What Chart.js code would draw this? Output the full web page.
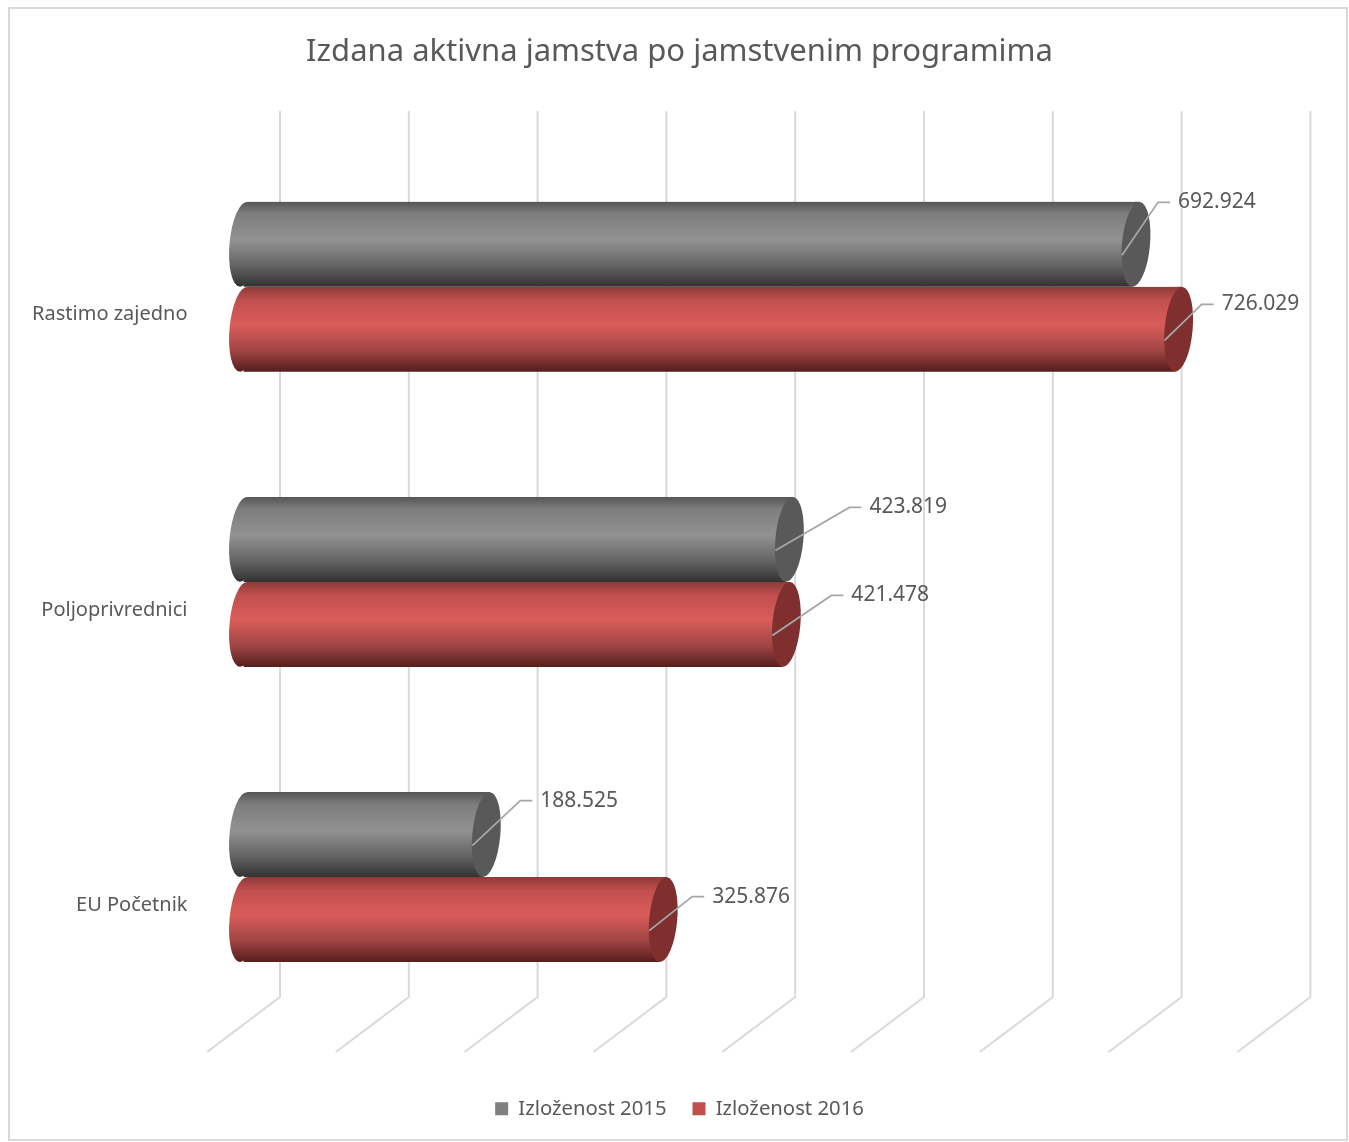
<!DOCTYPE html>
<html>
<head>
<meta charset="utf-8">
<title>Izdana aktivna jamstva</title>
<script src="https://cdn.jsdelivr.net/npm/chart.js@4/dist/chart.umd.js"></script>
<style>
    html, body { margin: 0; padding: 0; background: #fff; }
    #wrap { width: 1349px; height: 1142px; }
    canvas { filter: blur(0.5px); }
</style>
</head>
<body>
<div id="wrap"><canvas id="jamstva"></canvas></div>
<script>
const categories = ["Rastimo zajedno", "Poljoprivrednici", "EU Početnik"];
const seriesNames = ["Izloženost 2015", "Izloženost 2016"];
const values2015 = [692924, 423819, 188525];
const values2016 = [726029, 421478, 325876];

const textColour = "#595959";
const gridColour = "#d9d9d9";
const fontName = "'Noto Sans', sans-serif";

const legendColours = ["#7f7f7f", "#c0504d"];
const capColours = ["#595959", "#7f2f2e"];
const bodyStops = [
    [[0, "#565656"], [0.14, "#7d7d7d"], [0.45, "#929292"], [0.75, "#646464"], [1, "#323232"]],
    [[0, "#8c3b39"], [0.16, "#c2504e"], [0.45, "#d95c5a"], [0.75, "#a04543"], [1, "#551d1d"]],
];

// how far each value label sits from the end of its bar [dx, dy], per series
const labelShift = [
    [[42, -42], [80, -32], [54, -34]],
    [[43, -25], [65, -29], [49, -23]],
];

const DEPTH_X = 36.5;
const CAP_RX = 14;
const CAP_TILT = 0.09;
const CAP_LEAN = 3.8;
const BAR_H = 85;

function barGradient(ctx, top, bottom, datasetIndex) {
    let g = ctx.createLinearGradient(0, top, 0, bottom);
    bodyStops[datasetIndex].forEach(s => g.addColorStop(s[0], s[1]));
    return g;
}

function bodyFill(context) {
    let i = context.datasetIndex;
    let y = context.chart.scales.y;
    if (context.type !== 'data' || !y) {
        return legendColours[i];
    }
    let top = y.getPixelForValue(context.dataIndex) + (i === 0 ? -BAR_H : 0);
    if (!Number.isFinite(top)) {
        return legendColours[i];
    }
    return barGradient(context.chart.ctx, top, top + BAR_H, i);
}

const thousands = v => String(v).replace(/\B(?=(\d{3})+$)/g, ".");

/*
    3D look: back wall + floor grid, round bar ends, leader lines
 */
const cylinderPlugin = {
    id: 'cylinder',
    beforeDraw(chart) {
        let ctx = chart.ctx;
        ctx.save();
        ctx.fillStyle = "#fff";
        ctx.fillRect(0, 0, chart.width, chart.height);
        ctx.strokeStyle = gridColour;
        ctx.lineWidth = 2;
        ctx.strokeRect(9, 8, 1338, 1132);
        ctx.restore();
    },
    beforeDatasetsDraw(chart) {
        let ctx = chart.ctx;
        let x = chart.scales.x;
        ctx.save();
        ctx.strokeStyle = gridColour;
        ctx.lineWidth = 2;
        x.ticks.forEach(t => {
            let px = x.getPixelForValue(t.value);
            ctx.beginPath();
            ctx.moveTo(px + DEPTH_X, 111);
            ctx.lineTo(px + DEPTH_X, 997);
            ctx.lineTo(px - DEPTH_X, 1052);
            ctx.stroke();
        });
        ctx.restore();
    },
    // the tilted ends mean the square bar corners have to go
    beforeDatasetDraw(chart, args) {
        let ctx = chart.ctx;
        ctx.save();
        ctx.beginPath();
        chart.getDatasetMeta(args.index).data.forEach(bar => {
            let p = bar.getProps(['x', 'y', 'base', 'height'], true);
            let top = p.y - p.height / 2;
            let bottom = p.y + p.height / 2;
            ctx.moveTo(p.base + CAP_LEAN, top);
            ctx.lineTo(p.x + CAP_LEAN, top);
            ctx.lineTo(p.x - CAP_LEAN, bottom);
            ctx.lineTo(p.base - CAP_LEAN, bottom);
            ctx.closePath();
        });
        ctx.clip();
    },
    afterDatasetDraw(chart, args) {
        let ctx = chart.ctx;
        let i = args.index;
        ctx.restore();
        chart.getDatasetMeta(i).data.forEach(bar => {
            let p = bar.getProps(['x', 'y', 'base', 'height'], true);
            let top = p.y - p.height / 2;
            ctx.save();
            // left rounded end has the same shading as the body
            ctx.fillStyle = barGradient(ctx, top, top + p.height, i);
            ctx.beginPath();
            ctx.ellipse(p.base, p.y, CAP_RX, p.height / 2, CAP_TILT, 0, Math.PI * 2);
            ctx.fill();
            // little wedge where the top edge runs on past the bar
            ctx.beginPath();
            ctx.moveTo(p.x - 1, top);
            ctx.lineTo(p.x + CAP_LEAN, top);
            ctx.lineTo(p.x - 1, p.y);
            ctx.fill();
            // right end is the flat dark face
            ctx.fillStyle = capColours[i];
            ctx.beginPath();
            ctx.ellipse(p.x, p.y, CAP_RX, p.height / 2, CAP_TILT, 0, Math.PI * 2);
            ctx.fill();
            ctx.restore();
        });
    },
    afterDatasetsDraw(chart) {
        let ctx = chart.ctx;
        ctx.save();
        ctx.font = "21px " + fontName;
        ctx.fillStyle = textColour;
        ctx.textAlign = "left";
        ctx.textBaseline = "middle";
        chart.data.datasets.forEach((ds, i) => {
            chart.getDatasetMeta(i).data.forEach((bar, j) => {
                let p = bar.getProps(['x', 'y'], true);
                let tx = p.x + labelShift[i][j][0];
                let ty = p.y + labelShift[i][j][1];
                ctx.strokeStyle = "#a6a6a6";
                ctx.lineWidth = 1.8;
                ctx.beginPath();
                ctx.moveTo(p.x - CAP_RX, p.y + 11);
                ctx.lineTo(tx - 20, ty);
                ctx.lineTo(tx - 8, ty);
                ctx.stroke();
                ctx.fillText(thousands(ds.data[j]), tx, ty);
            });
        });
        ctx.restore();
    }
};

new Chart(
    document.getElementById('jamstva'),
    {
        type: 'bar',
        plugins: [cylinderPlugin],
        data: {
            labels: categories,
            datasets: [
                { label: seriesNames[0], data: values2015, backgroundColor: bodyFill, borderWidth: 0 },
                { label: seriesNames[1], data: values2016, backgroundColor: bodyFill, borderWidth: 0 },
            ]
        },
        options: {
            indexAxis: 'y',
            responsive: true,
            maintainAspectRatio: false,
            animation: false,
            barThickness: BAR_H,
            layout: { padding: { top: 6, right: 0, bottom: 13, left: 10 } },
            scales: {
                x: {
                    min: 0,
                    max: 800000,
                    ticks: { stepSize: 100000, display: false },
                    grid: { display: false },
                    border: { display: false },
                    afterFit(scale) { scale.height = 48; },
                },
                y: {
                    grid: { display: false, drawTicks: false },
                    border: { display: false },
                    afterFit(scale) { scale.width = 233.5; },
                    ticks: {
                        color: textColour,
                        font: { family: fontName, size: 20 },
                        padding: 56,
                        labelOffset: 28,
                    },
                },
                // empty axis, keeps the room right of the plot without moving title and legend
                yRight: {
                    type: 'category',
                    position: 'right',
                    grid: { display: false },
                    border: { display: false },
                    ticks: { display: false },
                    afterFit(scale) { scale.width = 75.1; },
                },
            },
            plugins: {
                title: {
                    display: true,
                    text: "Izdana aktivna jamstva po jamstvenim programima",
                    color: textColour,
                    font: { family: fontName, size: 31, weight: 'normal' },
                    padding: { top: 28, bottom: 68 },
                },
                legend: {
                    position: 'bottom',
                    labels: {
                        color: textColour,
                        font: { family: fontName, size: 20.3 },
                        boxWidth: 13,
                        boxHeight: 13,
                        padding: 26,
                        generateLabels(chart) {
                            let items = Chart.defaults.plugins.legend.labels.generateLabels(chart);
                            items.forEach((item, i) => {
                                item.fillStyle = legendColours[i];
                                item.lineWidth = 0;
                            });
                            return items;
                        },
                    },
                },
                tooltip: { enabled: false },
            },
        },
    }
);
</script>
</body>
</html>
